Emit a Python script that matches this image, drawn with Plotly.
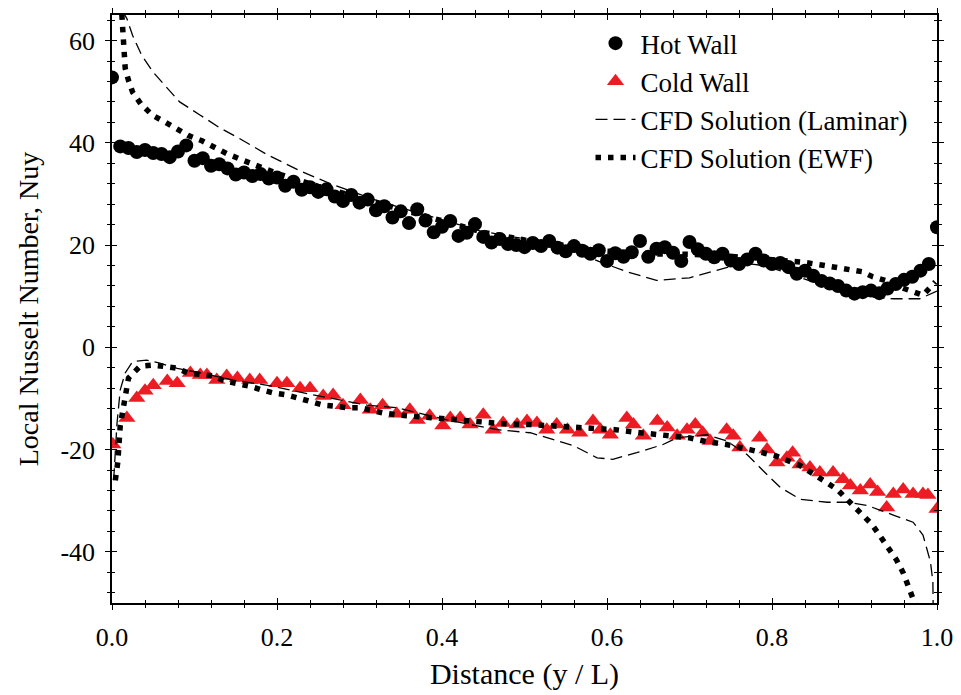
import plotly.graph_objects as go

# ---- measured local Nusselt numbers ----
hot_x = [round(i * 0.01, 2) for i in range(101)]
hot_nu = [52.8, 39.3, 39.0, 38.2, 38.6, 38.0, 37.8, 37.2, 38.3, 39.5,
          36.5, 37.0, 35.5, 35.8, 35.0, 33.8, 34.2, 33.5, 33.9, 33.0,
          33.2, 31.6, 32.4, 30.8, 31.3, 30.4, 30.9, 29.5, 28.6, 29.8,
          28.3, 28.9, 26.8, 27.6, 25.4, 26.6, 24.3, 27.0, 24.8, 22.5,
          23.6, 24.7, 21.8, 22.4, 24.1, 21.6, 20.5, 21.2, 20.2, 20.0,
          19.6, 20.4, 19.8, 20.8, 19.5, 18.8, 19.8, 18.9, 18.3, 19.0,
          16.9, 18.4, 17.7, 18.6, 20.8, 17.7, 19.3, 19.6, 18.5, 16.9,
          20.6, 19.2, 18.3, 17.6, 18.3, 17.0, 16.3, 17.2, 18.3, 17.0,
          16.3, 16.5, 15.7, 14.4, 15.0, 14.0, 13.0, 12.5, 12.0, 11.1,
          10.5, 10.8, 11.1, 10.6, 11.5, 12.4, 13.2, 13.8, 15.0, 16.3,
          23.5]

cold_x = [0.001, 0.018, 0.030, 0.040, 0.050, 0.067, 0.079, 0.095, 0.107, 0.115,
          0.127, 0.139, 0.152, 0.167, 0.179, 0.200, 0.212, 0.228, 0.240, 0.256,
          0.268, 0.280, 0.301, 0.313, 0.328, 0.345, 0.361, 0.370, 0.385, 0.401,
          0.410, 0.422, 0.434, 0.450, 0.462, 0.474, 0.491, 0.503, 0.515, 0.527,
          0.539, 0.552, 0.567, 0.583, 0.592, 0.604, 0.624, 0.632, 0.644, 0.661,
          0.673, 0.685, 0.697, 0.707, 0.716, 0.725, 0.745, 0.753, 0.761, 0.785,
          0.794, 0.806, 0.818, 0.825, 0.834, 0.846, 0.858, 0.874, 0.886, 0.895,
          0.907, 0.919, 0.928, 0.939, 0.947, 0.959, 0.971, 0.983, 0.989, 1.000]
cold_nu = [-19.0, -13.8, -9.9, -8.5, -7.4, -6.6, -7.0, -5.0, -5.4, -5.4,
           -6.4, -5.6, -6.0, -6.4, -6.4, -7.0, -7.0, -8.0, -8.0, -9.5,
           -9.3, -11.3, -10.3, -12.2, -11.3, -13.0, -12.2, -14.2, -13.4, -15.3,
           -13.8, -13.8, -15.1, -13.2, -16.1, -14.8, -15.1, -14.4, -14.8, -16.1,
           -15.1, -16.1, -16.7, -14.4, -16.1, -17.1, -13.8, -15.1, -17.3, -14.4,
           -15.7, -17.3, -16.1, -15.1, -16.7, -18.3, -16.1, -17.3, -19.6, -17.7,
           -20.0, -22.5, -21.6, -20.6, -22.9, -23.5, -24.5, -24.5, -25.8, -27.0,
           -28.0, -26.8, -28.3, -31.3, -28.7, -27.8, -28.7, -28.7, -28.9, -31.6]

# ---- CFD predictions, laminar model ----
lam_hot_x = [0.003, 0.012, 0.018, 0.025, 0.036, 0.050, 0.067, 0.082, 0.107, 0.131,
             0.155, 0.188, 0.228, 0.268, 0.325, 0.385, 0.446, 0.486, 0.530, 0.560,
             0.590, 0.624, 0.660, 0.700, 0.737, 0.765, 0.790, 0.820, 0.846, 0.879,
             0.907, 0.947, 0.979, 0.994, 1.000]
lam_hot_nu = [80.0, 66.0, 64.3, 61.0, 57.1, 53.8, 50.7, 48.0, 45.4, 42.9,
              40.8, 37.7, 34.5, 31.8, 28.5, 25.6, 22.8, 21.6, 20.5, 19.0,
              16.8, 14.8, 13.1, 13.6, 15.3, 16.5, 16.0, 14.5, 13.0, 11.2,
              10.0, 9.5, 9.5, 10.5, 11.0]

lam_cold_x = [0.002, 0.006, 0.010, 0.016, 0.025, 0.042, 0.058, 0.079, 0.107, 0.147,
              0.195, 0.244, 0.309, 0.345, 0.406, 0.467, 0.507, 0.535, 0.559, 0.588,
              0.607, 0.636, 0.668, 0.685, 0.721, 0.745, 0.770, 0.789, 0.810, 0.834,
              0.867, 0.891, 0.915, 0.947, 0.971, 0.983, 0.992, 0.995, 0.996]
lam_cold_nu = [-26.0, -15.0, -8.3, -5.0, -2.8, -2.5, -3.1, -4.1, -5.0, -6.4,
               -7.6, -9.3, -11.3, -11.8, -14.2, -16.1, -16.7, -18.1, -19.2, -21.6,
               -21.9, -20.6, -19.0, -17.7, -17.1, -18.3, -21.0, -24.1, -27.4, -29.7,
               -30.3, -30.3, -30.9, -32.8, -34.2, -36.7, -41.9, -45.8, -60.0]

# ---- CFD predictions, enhanced wall function ----
ewf_hot_x = [0.010, 0.012, 0.013, 0.014, 0.015, 0.016, 0.020, 0.025, 0.035, 0.049,
             0.064, 0.079, 0.093, 0.109, 0.124, 0.139, 0.154, 0.170, 0.200, 0.250,
             0.300, 0.350, 0.400, 0.450, 0.500, 0.550, 0.600, 0.650, 0.700, 0.750,
             0.800, 0.840, 0.864, 0.895, 0.909, 0.922, 0.939, 0.960, 0.983, 0.998]
ewf_hot_nu = [70.0, 64.5, 61.7, 59.4, 57.1, 54.6, 52.2, 49.9, 47.6, 45.4,
              44.1, 42.7, 41.4, 40.4, 39.0, 37.9, 36.9, 35.9, 34.0, 31.5,
              29.3, 27.0, 24.8, 22.5, 21.0, 19.8, 18.8, 18.3, 18.2, 17.8,
              17.2, 16.6, 16.0, 15.3, 14.8, 13.8, 13.0, 11.5, 10.2, 12.8]

ewf_cold_x = [0.004, 0.007, 0.010, 0.012, 0.014, 0.016, 0.020, 0.034, 0.048, 0.062,
              0.079, 0.092, 0.107, 0.123, 0.137, 0.151, 0.167, 0.181, 0.195, 0.212,
              0.226, 0.240, 0.256, 0.270, 0.285, 0.300, 0.315, 0.328, 0.345, 0.360,
              0.390, 0.420, 0.448, 0.480, 0.507, 0.540, 0.567, 0.590, 0.610, 0.640,
              0.670, 0.700, 0.720, 0.745, 0.773, 0.804, 0.834, 0.848, 0.862, 0.879,
              0.892, 0.907, 0.921, 0.931, 0.941, 0.951, 0.959, 0.965, 0.971, 0.980]
ewf_cold_nu = [-26.0, -22.5, -15.3, -13.2, -10.9, -8.5, -6.0, -3.7, -3.5, -3.7,
               -4.1, -5.0, -5.4, -5.6, -6.6, -7.0, -7.6, -8.3, -8.9, -9.3,
               -9.9, -10.5, -11.3, -11.5, -11.8, -11.8, -12.4, -12.8, -13.2, -13.4,
               -13.8, -14.2, -14.6, -15.0, -15.1, -15.4, -15.9, -16.0, -16.1, -16.7,
               -17.2, -17.7, -18.4, -19.0, -20.0, -21.2, -23.1, -24.7, -26.0, -27.8,
               -29.9, -32.2, -34.6, -36.9, -39.2, -41.6, -44.1, -46.4, -48.7, -53.0]

# ---- axis ticks ----
x_ticks = [0.0, 0.2, 0.4, 0.6, 0.8, 1.0]
x_labels = ["0.0", "0.2", "0.4", "0.6", "0.8", "1.0"]
y_ticks = [-40, -20, 0, 20, 40, 60]
y_labels = ["-40", "-20", "0", "20", "40", "60"]

SERIF = "Liberation Serif"
RED = "#EC1C24"
DASH = "12px,6px"
DOT = "5.5px,7px"

fig = go.Figure()

# experimental points
fig.add_trace(go.Scatter(x=hot_x, y=hot_nu, mode="markers", name="Hot Wall",
                         legendgroup="a",
                         marker=dict(symbol="circle", size=14, color="black")))
fig.add_trace(go.Scatter(x=cold_x, y=cold_nu, mode="markers", name="Cold Wall",
                         legendgroup="b",
                         marker=dict(symbol="triangle-up", size=15, color=RED)))

# laminar CFD curves
fig.add_trace(go.Scatter(x=lam_hot_x, y=lam_hot_nu, mode="lines",
                         name="CFD Solution (Laminar)", legendgroup="c",
                         line=dict(color="black", width=1.3, dash=DASH)))
fig.add_trace(go.Scatter(x=lam_cold_x, y=lam_cold_nu, mode="lines",
                         showlegend=False, legendgroup="c",
                         line=dict(color="black", width=1.3, dash=DASH)))

# EWF CFD curves
fig.add_trace(go.Scatter(x=ewf_hot_x, y=ewf_hot_nu, mode="lines",
                         name="CFD Solution (EWF)", legendgroup="d",
                         line=dict(color="black", width=5.5, dash=DOT)))
fig.add_trace(go.Scatter(x=ewf_cold_x, y=ewf_cold_nu, mode="lines",
                         showlegend=False, legendgroup="d",
                         line=dict(color="black", width=5.5, dash=DOT)))

# invisible trace carrying the overlay axes that give the inward tick halves
fig.add_trace(go.Scatter(x=[0, 1], y=[0, 0], xaxis="x2", yaxis="y2",
                         mode="markers", marker=dict(opacity=0),
                         showlegend=False, hoverinfo="skip"))

xr = [0, 1.0]
yr = [-50, 65]
tickfont = dict(family=SERIF, size=26, color="black")

fig.update_layout(
    width=961, height=695,
    margin=dict(l=112, r=23, t=8, b=92),
    paper_bgcolor="white", plot_bgcolor="white",
    showlegend=True,
    legend=dict(x=0.58, y=0.993, xanchor="left", yanchor="top",
                font=dict(family=SERIF, size=27, color="black"),
                bgcolor="rgba(0,0,0,0)", traceorder="grouped",
                tracegroupgap=0, itemwidth=40),
    xaxis=dict(range=xr, tickvals=x_ticks, ticktext=x_labels,
               showgrid=False, zeroline=False,
               showline=True, linecolor="black", linewidth=1.5, mirror="ticks",
               ticks="outside", ticklen=5, tickwidth=1.2, tickcolor="black",
               minor=dict(dtick=0.04, tick0=0, ticks="outside", ticklen=3,
                          tickwidth=1, tickcolor="black"),
               tickfont=tickfont, ticklabelstandoff=5,
               title=dict(text="Distance (y / L)",
                          font=dict(family=SERIF, size=30, color="black"),
                          standoff=12)),
    yaxis=dict(range=yr, tickvals=y_ticks, ticktext=y_labels,
               showgrid=False, zeroline=False,
               showline=True, linecolor="black", linewidth=1.5, mirror="ticks",
               ticks="outside", ticklen=5, tickwidth=1.2, tickcolor="black",
               minor=dict(dtick=4, tick0=0, ticks="outside", ticklen=3,
                          tickwidth=1, tickcolor="black"),
               tickfont=tickfont, ticklabelstandoff=5,
               title=dict(text="Local Nusselt Number, Nuy",
                          font=dict(family=SERIF, size=28, color="black"),
                          standoff=14)),
    xaxis2=dict(range=xr, overlaying="x", side="bottom", tickvals=x_ticks,
                showgrid=False, zeroline=False, showline=False,
                showticklabels=False, mirror="ticks",
                ticks="inside", ticklen=5, tickwidth=1.2, tickcolor="black",
                minor=dict(dtick=0.04, tick0=0, ticks="inside", ticklen=3,
                           tickwidth=1, tickcolor="black")),
    yaxis2=dict(range=yr, overlaying="y", side="left", tickvals=y_ticks,
                showgrid=False, zeroline=False, showline=False,
                showticklabels=False, mirror="ticks",
                ticks="inside", ticklen=5, tickwidth=1.2, tickcolor="black",
                minor=dict(dtick=4, tick0=0, ticks="inside", ticklen=3,
                           tickwidth=1, tickcolor="black")),
)

fig.write_html("out.html")
